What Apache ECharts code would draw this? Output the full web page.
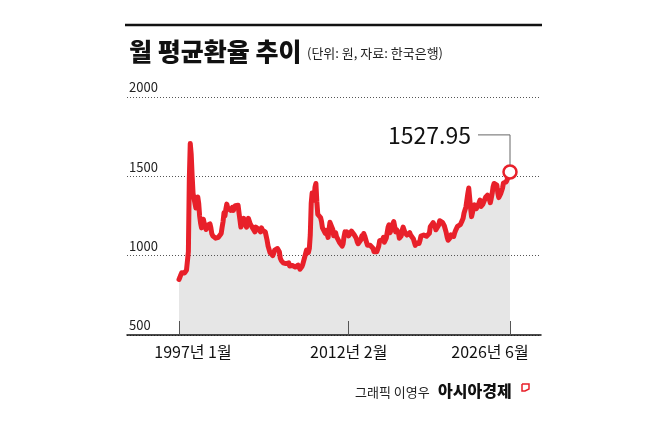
<!DOCTYPE html>
<html>
<head>
<meta charset="utf-8">
<script src="https://cdn.jsdelivr.net/npm/echarts@6/dist/echarts.min.js"></script>
<style>
html, body { margin: 0; padding: 0; background: #fff; }
#app { width: 658px; height: 435px; }
</style>
</head>
<body>
<div id="app"></div>
<script>
// monthly average KRW/USD, 1997-01 .. 2026-06
var startYear = 1997;
var rates = [
    850, 864, 880, 893, 892, 889, 891, 896, 909, 921, 1025, 1484,
    1707, 1640, 1505, 1392, 1394, 1397, 1300, 1300, 1370, 1330, 1250, 1206,
    1175, 1190, 1230, 1200, 1180, 1165, 1190, 1195, 1200, 1200, 1175, 1138,
    1125, 1125, 1117, 1110, 1120, 1118, 1116, 1113, 1119, 1140, 1180, 1215,
    1270, 1250, 1295, 1325, 1300, 1295, 1305, 1285, 1295, 1305, 1285, 1295,
    1315, 1316, 1325, 1318, 1270, 1225, 1180, 1200, 1210, 1235, 1215, 1210,
    1180, 1190, 1235, 1225, 1200, 1195, 1180, 1180, 1170, 1150, 1180, 1190,
    1185, 1165, 1170, 1150, 1175, 1160, 1155, 1160, 1150, 1140, 1095, 1060,
    1040, 1020, 1010, 1010, 1000, 1015, 1035, 1025, 1030, 1045, 1040, 1025,
    985, 970, 975, 955, 945, 955, 950, 960, 955, 955, 935, 925,
    940, 938, 945, 930, 928, 928, 920, 940, 930, 915, 915, 930,
    945, 945, 990, 985, 1035, 1030, 1020, 1045, 1130, 1330, 1395, 1365,
    1350, 1430, 1455, 1340, 1260, 1260, 1260, 1240, 1215, 1175, 1165, 1165,
    1140, 1160, 1135, 1115, 1165, 1210, 1200, 1180, 1165, 1125, 1130, 1145,
    1120, 1118, 1120, 1085, 1085, 1080, 1060, 1075, 1120, 1150, 1130, 1150,
    1145, 1125, 1125, 1135, 1155, 1165, 1145, 1130, 1125, 1110, 1088, 1075,
    1065, 1085, 1100, 1125, 1110, 1140, 1125, 1115, 1085, 1065, 1062, 1055,
    1065, 1070, 1070, 1045, 1025, 1020, 1015, 1025, 1035, 1060, 1095, 1105,
    1090, 1100, 1115, 1085, 1090, 1110, 1145, 1180, 1195, 1145, 1150, 1170,
    1200, 1215, 1185, 1150, 1165, 1165, 1145, 1110, 1105, 1125, 1160, 1180,
    1175, 1145, 1135, 1130, 1125, 1130, 1145, 1130, 1135, 1130, 1105, 1085,
    1065, 1080, 1070, 1068, 1077, 1095, 1123, 1120, 1120, 1130, 1128, 1123,
    1122, 1123, 1131, 1141, 1183, 1176, 1175, 1208, 1197, 1184, 1163, 1175,
    1165, 1194, 1220, 1225, 1229, 1210, 1199, 1187, 1178, 1145, 1116, 1097,
    1099, 1112, 1131, 1122, 1124, 1121, 1144, 1160, 1171, 1184, 1182, 1182,
    1195, 1198, 1221, 1236, 1269, 1281, 1307, 1319, 1391, 1426, 1364, 1297,
    1246, 1271, 1305, 1320, 1327, 1296, 1286, 1317, 1329, 1350, 1310, 1304,
    1323, 1331, 1330, 1368, 1365, 1381, 1383, 1354, 1334, 1361, 1393, 1435,
    1455, 1445, 1457, 1444, 1395, 1366, 1375, 1389, 1392, 1425, 1458, 1470,
    1460, 1465, 1480, 1495, 1505, 1527.95
];
var labelMonths = ['1997-01', '2012-02', '2026-06'];
var labelTexts = ['1997년 1월', '2012년 2월', '2026년 6월'];
var yTicks = [500, 1000, 1500, 2000];

var months = [];
for (var i = 0; i < rates.length; i++) {
    var y = startYear + Math.floor(i / 12);
    var m = i % 12 + 1;
    months.push(y + '-' + (m < 10 ? '0' + m : m));
}
var last = rates.length - 1;
var FONT = 'Noto Sans CJK KR';

window.onload = function() {
    var myChart = echarts.init(document.getElementById('app'));
    var isLabel = function(index, value) {
        return labelMonths.indexOf(value) >= 0;
    };
    var option = {
        animation: false,
        textStyle: { fontFamily: FONT },
        title: [{
            text: '월 평균환율 추이',
            left: 124,
            top: 34,
            textStyle: { fontSize: 25, fontWeight: 900, color: '#111', fontFamily: FONT }
        }, {
            text: '(단위: 원, 자료: 한국은행)',
            left: 302,
            top: 42,
            textStyle: { fontSize: 13, fontWeight: 'normal', color: '#222', fontFamily: FONT }
        }],
        grid: [
            { left: 127, right: 117, top: 97, bottom: 100 },
            { left: 179, right: 148, top: 97, bottom: 100 }
        ],
        xAxis: [{
            gridIndex: 0,
            type: 'value',
            min: 0,
            max: 1,
            z: 4,
            axisLine: { show: true, lineStyle: { color: '#111', width: 1.5 } },
            axisTick: { show: false },
            axisLabel: { show: false },
            splitLine: { show: false }
        }, {
            gridIndex: 1,
            type: 'category',
            data: months,
            boundaryGap: false,
            z: 4,
            axisLine: { show: false },
            axisTick: {
                show: true,
                inside: true,
                length: 14,
                interval: isLabel,
                lineStyle: { color: '#555', width: 1 }
            },
            axisLabel: {
                interval: isLabel,
                margin: 9,
                fontSize: 16,
                color: '#111',
                fontFamily: FONT,
                formatter: function(value) {
                    var k = labelMonths.indexOf(value);
                    if (k === 0) return '{first|' + labelTexts[k] + '}';
                    if (k === labelMonths.length - 1) return '{end|' + labelTexts[k] + '}';
                    return labelTexts[k];
                },
                rich: {
                    first: { fontSize: 16, color: '#111', fontFamily: FONT, padding: [0, 0, 0, 28] },
                    end: { fontSize: 16, color: '#111', fontFamily: FONT, padding: [0, 40, 0, 0] }
                }
            }
        }],
        yAxis: [{
            gridIndex: 0,
            type: 'value',
            min: yTicks[0],
            max: yTicks[yTicks.length - 1],
            interval: yTicks[1] - yTicks[0],
            z: 2,
            axisLine: { show: false },
            axisTick: { show: false },
            axisLabel: {
                inside: true,
                margin: 2,
                fontSize: 13,
                color: '#222',
                verticalAlign: 'bottom',
                padding: [0, 0, 3, 0],
                fontFamily: FONT,
                formatter: function(v) { return String(v); }
            },
            splitLine: { lineStyle: { color: '#555', type: [1, 2], width: 1 } }
        }, {
            gridIndex: 1,
            type: 'value',
            min: yTicks[0],
            max: yTicks[yTicks.length - 1],
            show: false
        }],
        series: [{
            name: 'area',
            type: 'line',
            xAxisIndex: 1,
            yAxisIndex: 1,
            data: rates,
            z: 1,
            showSymbol: false,
            silent: true,
            lineStyle: { width: 0, opacity: 0 },
            areaStyle: { color: '#e6e6e6', opacity: 1, origin: 'start' }
        }, {
            name: '월 평균환율',
            type: 'line',
            xAxisIndex: 1,
            yAxisIndex: 1,
            data: rates,
            z: 3,
            showSymbol: false,
            lineStyle: { color: '#e8202a', width: 5, join: 'round', cap: 'round' },
            markPoint: {
                symbol: 'circle',
                symbolSize: 13,
                label: { show: false },
                itemStyle: { color: '#fff', borderColor: '#e8202a', borderWidth: 2.5 },
                data: [{ coord: [months[last], rates[last]] }]
            }
        }]
    };
    myChart.setOption(option);

    // leader line and value label for the last point
    var p = myChart.convertToPixel({ xAxisIndex: 1, yAxisIndex: 1 }, [months[last], rates[last]]);
    var elbowY = p[1] - 37;
    myChart.setOption({
        graphic: [{
            type: 'line',
            shape: { x1: 125, y1: 25, x2: 542, y2: 25 },
            style: { stroke: '#111', lineWidth: 2.5 }
        }, {
            type: 'polyline',
            shape: { points: [[p[0] - 32, elbowY], [p[0], elbowY], [p[0], p[1] - 7]] },
            style: { stroke: '#666', lineWidth: 1, fill: null },
            z: 5
        }, {
            type: 'text',
            x: p[0] - 39,
            y: elbowY,
            style: {
                text: rates[last].toFixed(2),
                fontSize: 23,
                fontFamily: FONT,
                fill: '#111',
                align: 'right',
                verticalAlign: 'middle'
            },
            z: 5
        }, {
            type: 'text',
            x: 355,
            y: 392,
            style: { text: '그래픽 이영우', fontSize: 13, fontFamily: FONT, fill: '#222', verticalAlign: 'middle' }
        }, {
            type: 'text',
            x: 438,
            y: 391,
            style: { text: '아시아경제', fontSize: 16, fontWeight: 900, fontFamily: FONT, fill: '#111', verticalAlign: 'middle' }
        }, {
            type: 'polyline',
            shape: { points: [[522, 384], [529, 384], [529, 389], [525, 391], [522, 391], [522, 384]] },
            style: { stroke: '#e8202a', lineWidth: 1.5, fill: null }
        }]
    });
};
</script>
</body>
</html>
